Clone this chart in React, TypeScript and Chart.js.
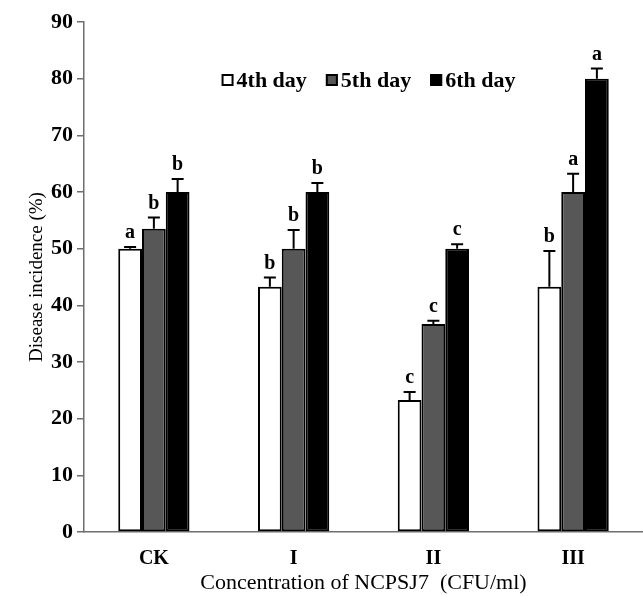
import React, { useEffect, useRef } from "react";
import { Chart, registerables } from "chart.js";

Chart.register(...registerables);

const categories = ["CK", "I", "II", "III"];
const seriesNames = ["4th day", "5th day", "6th day"];
const day4 = [50, 43.3, 23.3, 43.3];
const day5 = [53.5, 50, 36.7, 60];
const day6 = [60, 60, 50, 80];
const err4 = [0.3, 1.6, 1.4, 6.3];
const err5 = [2, 3.3, 0.6, 3.2];
const err6 = [2.3, 1.6, 0.8, 1.8];
const letters4 = ["a", "b", "c", "b"];
const letters5 = ["b", "b", "c", "a"];
const letters6 = ["b", "b", "c", "a"];
const fills = ["#ffffff", "#575757", "#000000"];

const errors = [err4, err5, err6];
const letters = [letters4, letters5, letters6];

const SERIF = "'Liberation Serif', 'Times New Roman', serif";
const AXIS_GRAY = "#6e6e6e";

const errorBarPlugin = {
  id: "errorBars",
  afterDatasetsDraw(chart: any) {
    const ctx = chart.ctx;
    const y = chart.scales.y;
    chart.data.datasets.forEach((ds: any, di: number) => {
      const meta = chart.getDatasetMeta(di);
      meta.data.forEach((bar: any, i: number) => {
        const v = ds.data[i] as number;
        const e = errors[di][i];
        const base = y.getPixelForValue(v);
        const top = y.getPixelForValue(v + e);
        ctx.save();
        ctx.strokeStyle = "#000";
        ctx.lineWidth = 2;
        ctx.beginPath();
        ctx.moveTo(bar.x, base);
        ctx.lineTo(bar.x, top);
        ctx.moveTo(bar.x - 6, top);
        ctx.lineTo(bar.x + 6, top);
        ctx.stroke();
        ctx.fillStyle = "#000";
        ctx.font = `bold 20px ${SERIF}`;
        ctx.textAlign = "center";
        ctx.textBaseline = "bottom";
        ctx.fillText(letters[di][i], bar.x, top - 4);
        ctx.restore();
      });
    });
  },
};

const legendPlugin = {
  id: "innerLegend",
  afterDraw(chart: any) {
    const ctx = chart.ctx;
    const area = chart.chartArea;
    ctx.save();
    ctx.font = `bold 22px ${SERIF}`;
    const box = 12;
    const gapBoxText = 3;
    const gapItems = 19;
    const widths = seriesNames.map((s) => ctx.measureText(s).width);
    const total =
      widths.reduce((a, b) => a + b, 0) +
      seriesNames.length * (box + gapBoxText) +
      gapItems * (seriesNames.length - 1);
    let x = (area.left + area.right) / 2 - total / 2 + 5;
    const cy = area.top + 58;
    seriesNames.forEach((s, i) => {
      ctx.fillStyle = fills[i];
      ctx.fillRect(x, cy - box / 2, box, box);
      ctx.strokeStyle = "#000";
      ctx.lineWidth = 2;
      ctx.strokeRect(x + 1, cy - box / 2 + 1, box - 2, box - 2);
      x += box + gapBoxText;
      ctx.fillStyle = "#000";
      ctx.textAlign = "left";
      ctx.textBaseline = "middle";
      ctx.fillText(s, x, cy + 1);
      x += widths[i] + gapItems;
    });
    ctx.restore();
  },
};

export default function App() {
  const canvasRef = useRef<HTMLCanvasElement | null>(null);

  useEffect(() => {
    if (!canvasRef.current) return;
    const datasets = [day4, day5, day6].map((d, i) => ({
      label: seriesNames[i],
      data: d,
      backgroundColor: fills[i],
      borderColor: "#000",
      borderWidth: 2,
      borderSkipped: false,
      categoryPercentage: 0.51,
      barPercentage: 1.0,
    }));
    const chart = new Chart(canvasRef.current, {
      type: "bar",
      data: { labels: categories, datasets },
      plugins: [errorBarPlugin, legendPlugin],
      options: {
        animation: false,
        responsive: false,
        maintainAspectRatio: false,
        layout: { padding: { top: 22, right: 0, left: 0, bottom: 0 } },
        plugins: {
          legend: { display: false },
          tooltip: { enabled: false },
        },
        scales: {
          x: {
            grid: { display: false },
            border: { display: true, color: AXIS_GRAY, width: 1.5 },
            ticks: {
              color: "#000",
              font: { family: SERIF, size: 20, weight: "bold" },
              padding: 7,
            },
            title: {
              display: true,
              text: "Concentration of NCPSJ7  (CFU/ml)",
              color: "#000",
              font: { family: SERIF, size: 22 },
              padding: { top: 0, bottom: 1 },
            },
            afterFit: (scale: any) => {
              scale.height = 65;
            },
          },
          y: {
            min: 0,
            max: 90,
            ticks: {
              stepSize: 10,
              color: "#000",
              font: { family: SERIF, size: 22, weight: "bold" },
              padding: 4,
            },
            grid: {
              display: true,
              drawOnChartArea: false,
              drawTicks: true,
              tickLength: 7,
              color: AXIS_GRAY,
              lineWidth: 1.5,
            },
            border: { display: true, color: AXIS_GRAY, width: 1.5 },
            title: {
              display: true,
              text: "Disease incidence (%)",
              color: "#000",
              font: { family: SERIF, size: 19 },
              padding: { top: 26, bottom: 0 },
            },
            afterFit: (scale: any) => {
              scale.width = 84;
            },
          },
        },
      },
    });
    return () => chart.destroy();
  }, []);

  return (
    <div
      style={{
        position: "fixed",
        left: 0,
        top: 0,
        width: 643,
        height: 597,
        background: "#fff",
      }}
    >
      <canvas ref={canvasRef} width={643} height={597} />
    </div>
  );
}
